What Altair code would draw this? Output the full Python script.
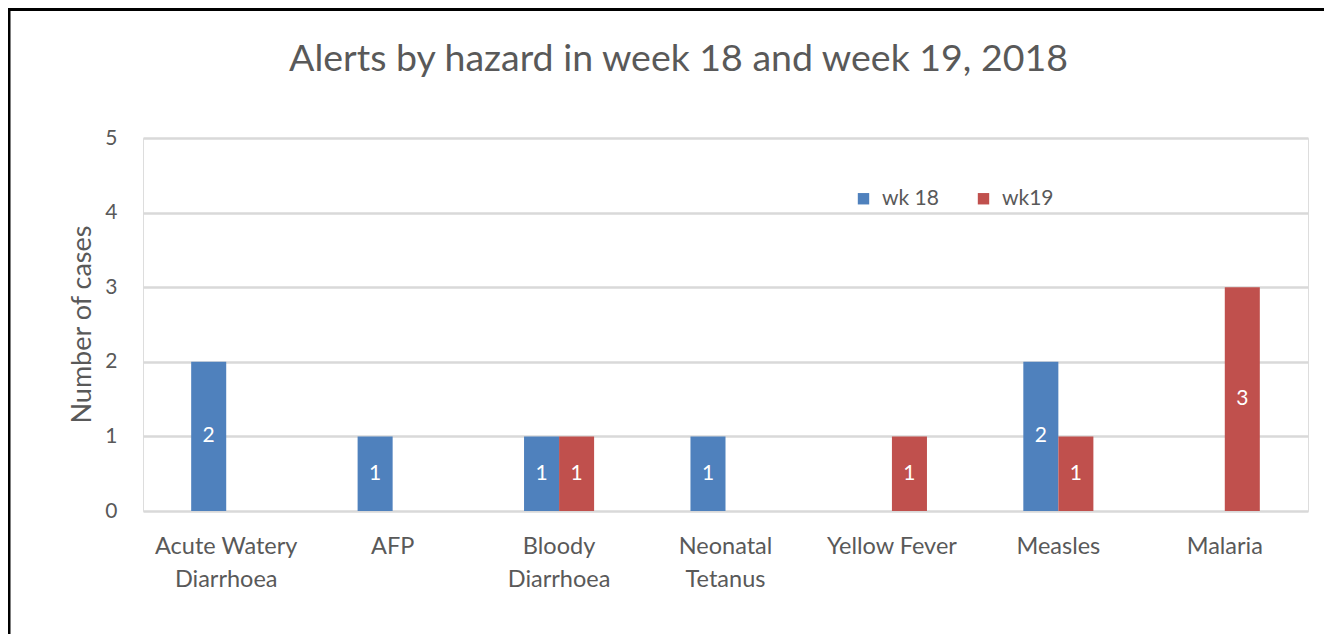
import altair as alt
import pandas as pd

categories = ["Acute Watery|Diarrhoea", "AFP", "Bloody|Diarrhoea", "Neonatal|Tetanus",
              "Yellow Fever", "Measles", "Malaria"]
series_names = ["wk 18", "wk19"]
wk18 = [2, 1, 1, 1, 0, 2, 0]
wk19 = [0, 0, 1, 0, 1, 1, 3]
title_text = "Alerts by hazard in week 18 and week 19, 2018"
y_title = "Number of cases"
colors = ["#4F81BD", "#C0504D"]

rows = []
for c, a, b in zip(categories, wk18, wk19):
    rows.append({"hazard": c, "series": series_names[0], "cases": a})
    rows.append({"hazard": c, "series": series_names[1], "cases": b})
df = pd.DataFrame(rows)
df = df[df["cases"] > 0]

FONT = "Lato"
GREY = "#595959"

x_enc = alt.X("hazard:N", sort=categories,
              scale=alt.Scale(domain=categories, paddingInner=0.579, paddingOuter=0.2895),
              axis=alt.Axis(title=None, labelExpr="split(datum.label, '|')",
                            labelAngle=0, labelFontSize=23.5, labelColor=GREY, labelFont=FONT,
                            labelPadding=23, labelLineHeight=33, ticks=False, domain=False,
                            grid=False))
xo_enc = alt.XOffset("series:N", scale=alt.Scale(domain=series_names, paddingInner=0, paddingOuter=0))

bars = alt.Chart(df).mark_bar().encode(
    x=x_enc,
    xOffset=xo_enc,
    y=alt.Y("cases:Q", scale=alt.Scale(domain=[0, 5]),
            axis=alt.Axis(values=[0, 1, 2, 3, 4, 5], format="d", title=y_title, titleFont=FONT,
                          titleFontSize=27, titleFontWeight="normal", titleColor=GREY,
                          titleX=-61, titleY=186, titleAngle=-90, titleBaseline="middle",
                          titleAlign="center",
                          labelFontSize=21, labelColor=GREY, labelFont=FONT, labelPadding=26,
                          ticks=False, domain=False, gridColor="#D9D9D9", gridWidth=2.5)),
    color=alt.Color("series:N", scale=alt.Scale(domain=series_names, range=colors),
                    legend=alt.Legend(title=None, orient="none", direction="horizontal",
                                      legendX=710, legendY=50, symbolType="square",
                                      symbolSize=130, symbolStrokeWidth=0,
                                      labelFontSize=21, labelColor=GREY, labelFont=FONT,
                                      columnPadding=34, labelOffset=8)),
)

labels = alt.Chart(df).transform_calculate(mid="datum.cases / 2").mark_text(
    color="white", fontSize=21, font=FONT, baseline="middle"
).encode(
    x=alt.X("hazard:N", sort=categories),
    xOffset=alt.XOffset("series:N"),
    y=alt.Y("mid:Q"),
    text=alt.Text("cases:Q"),
)

frame = alt.Chart(alt.Data(values=[{"k": 1}])).mark_rect(
    fill=None, stroke="black", strokeWidth=3
).encode(
    x=alt.value(-134), x2=alt.value(1300), y=alt.value(-128.5), y2=alt.value(600)
)

chart = alt.layer(frame, bars, labels).properties(
    width=1165, height=373,
    title=alt.TitleParams(title_text, font=FONT, fontSize=37.5, fontWeight="normal",
                          color=GREY, anchor="middle", frame="group", dx=-47,
                          baseline="alphabetic", offset=-100),
    autosize=alt.AutoSizeParams(type="none"),
    padding={"left": 135, "top": 130, "right": 16, "bottom": 123},
).configure_view(stroke=None).configure(background="white")

chart.save("out.html", embed_options={"renderer": "svg", "actions": False})
